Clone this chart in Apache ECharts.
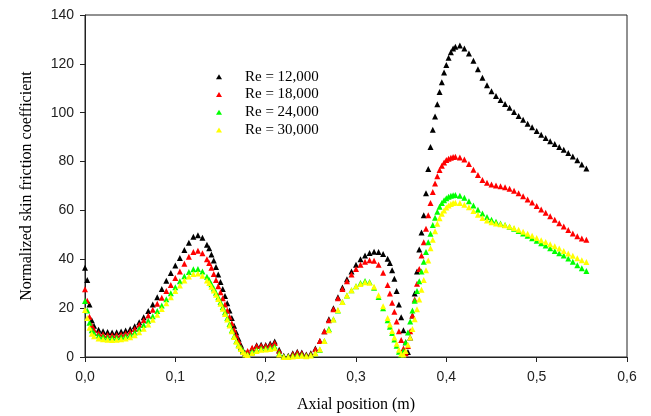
<!DOCTYPE html>
<html>
<head>
<meta charset="utf-8">
<script src="https://cdn.jsdelivr.net/npm/echarts@6/dist/echarts.min.js"></script>
<style>
    html, body { margin: 0; padding: 0; background: #fff; }
    #chart { width: 651px; height: 416px; }
</style>
</head>
<body>
<div id="chart"></div>
<script>
// axial positions (m), shared by all four series
const axialPos = [
    0, 0.0025, 0.005, 0.0075, 0.01,
    0.015, 0.02, 0.025, 0.03, 0.035, 0.04, 0.045, 0.05, 0.055, 0.06, 0.065, 0.07, 0.075, 0.08, 0.085, 0.09, 0.095, 0.1, 0.105, 0.11, 0.115, 0.12, 0.125, 0.13, 0.135,
    0.1375, 0.14, 0.1425, 0.145, 0.1475, 0.15, 0.1525, 0.155, 0.1575, 0.16, 0.1625, 0.165, 0.1675, 0.17, 0.1725, 0.175, 0.1775, 0.18,
    0.185, 0.19, 0.195, 0.2, 0.205, 0.21, 0.215, 0.22, 0.225, 0.23, 0.235, 0.24, 0.245, 0.25, 0.255, 0.26, 0.265, 0.27, 0.275, 0.28, 0.285, 0.29, 0.295, 0.3, 0.305, 0.31, 0.315, 0.32, 0.325, 0.33, 0.335,
    0.3375, 0.34, 0.3425, 0.345, 0.3475, 0.35, 0.3525, 0.355, 0.3575, 0.36, 0.3625, 0.365, 0.3675, 0.37, 0.3725, 0.375, 0.3775, 0.38, 0.3825, 0.385, 0.3875, 0.39, 0.3925, 0.395, 0.3975, 0.4, 0.4025, 0.405, 0.4075, 0.41,
    0.415, 0.42, 0.425, 0.43, 0.435, 0.44, 0.445, 0.45, 0.455, 0.46, 0.465, 0.47, 0.475, 0.48, 0.485, 0.49, 0.495, 0.5, 0.505, 0.51, 0.515, 0.52, 0.525, 0.53, 0.535, 0.54, 0.545, 0.55, 0.555,
];

const re12000 = [
    36.5, 31.5, 21.5, 15, 12.8,
    11.2, 10.5, 10.2, 10.0, 10.1, 10.4, 10.8, 11.5, 12.6, 14.2, 16.3, 18.8, 21.5, 24.5, 27.8, 31.2, 34.4, 37.5, 40.5, 43.8, 46.8, 49.2, 49.8, 48.8, 46,
    44.5, 42, 39.5, 36.8, 33.8, 30.7, 27.8, 25, 22, 19, 16, 12.8, 10, 7.5, 5, 2.8, 1.5, 1.8,
    3.5, 4.8, 5.0, 4.9, 5.5, 6.3, 3, 0.5, 0.5, 1.5, 2.2, 1.8, 1.0, 1.5, 3.5, 6.5, 10.5, 15.5, 20, 24.5, 28.5, 31.8, 35, 37.8, 40, 41.6, 42.6, 43.1, 43, 42.2, 40.2,
    38.5, 35.5, 32, 27, 21.5, 16.3, 11, 6, 2, 8, 17, 26, 35, 44, 51, 58, 67, 77, 86, 93, 98.5, 103.5, 108.5, 112.5, 116.5, 119.5, 122.5, 124.8, 126.3, 127,
    127.5, 126.3, 124.2, 121.3, 117.8, 114.3, 111.2, 108.8, 106.8, 105.2, 103.6, 102, 100.3, 98.7, 97.1, 95.5, 94, 92.5, 91, 89.6, 88.3, 87.2, 86, 84.8, 83.5, 82.1, 80.5, 78.8, 77.2,
];

const re18000 = [
    27.7, 23, 16.5, 13, 11.2,
    9.8, 9.3, 9.0, 8.9, 9.0, 9.2, 9.6, 10.3, 11.5, 13.2, 15, 17, 19.3, 21.8, 24.3, 27, 29.5, 32.3, 35, 38.2, 41, 43, 43.5, 42.5, 40,
    38.5, 36.5, 34, 31.5, 29, 26.5, 24, 21.5, 19, 16.5, 13.8, 11.2, 8.8, 6.5, 4.2, 2.2, 1.5, 2.5,
    3.8, 4.5, 4.6, 4.6, 5.0, 5.7, 2.5, 0.3, 0.3, 1.2, 1.8, 1.5, 0.8, 1.2, 3.2, 6.5, 10.5, 15, 19.5, 24, 27.8, 31, 33.8, 36, 37.8, 39, 39.6, 39.4, 37.8, 34.5, 29.5,
    26, 22.2, 18.5, 14.5, 10.5, 7, 3.5, 1.5, 4.5, 10.5, 17, 23.5, 30, 36, 41.5, 47, 52.5, 58, 63, 67.5, 71, 74, 76.5, 78.3, 79.6, 80.6, 81.2, 81.6, 81.9, 82,
    81.7, 80.8, 79, 76.7, 74.5, 72.5, 71.3, 70.6, 70.2, 69.9, 69.5, 68.9, 68.1, 67.0, 65.8, 64.5, 63.2, 61.8, 60.4, 59, 57.6, 56.2, 54.8, 53.4, 52, 50.6, 49.4, 48.5, 48,
];

const re24000 = [
    22.9, 19, 14, 11, 9.8,
    8.7, 8.3, 8.0, 7.9, 8.0, 8.2, 8.5, 9.0, 10.0, 11.6, 13.1, 14.8, 16.7, 18.8, 21.1, 23.6, 26.1, 28.6, 31, 33.1, 34.8, 35.9, 36, 35, 32.8,
    31.5, 29.8, 28, 26.3, 24.5, 22.5, 20.5, 18.3, 16, 13.5, 11, 8.5, 6.5, 5, 3.8, 2.5, 1.2, 1.0,
    2.2, 3.0, 3.5, 3.6, 3.8, 4.3, 1.5, 0.2, 0.2, 0.5, 0.8, 0.8, 0.5, 0.8, 1.5, 3, 6.5, 11.5, 15.5, 19, 22.5, 25.2, 27.3, 29, 30.3, 31.1, 30.7, 28.3, 24.6, 20, 15,
    12.4, 9.8, 7.2, 4.6, 2.2, 1.0, 2.5, 6, 10, 14.5, 19, 23, 27, 31, 35, 39, 43, 47, 50.5, 54, 57, 59.5, 61.5, 63, 64.2, 65, 65.6, 66, 66.2, 66.3,
    66, 65.2, 63.8, 62, 60.3, 58.7, 57.3, 56.2, 55.4, 54.7, 54, 53.3, 52.5, 51.6, 50.6, 49.6, 48.6, 47.6, 46.6, 45.6, 44.5, 43.4, 42.5, 41.5, 40.3, 39, 37.6, 36.3, 35.2,
];

const re30000 = [
    19.2, 16, 12, 9.5, 8.5,
    7.6, 7.3, 7.1, 7.0, 7.1, 7.3, 7.6, 8.1, 8.9, 10.1, 11.6, 13.3, 15.2, 17.3, 19.6, 22, 24.5, 27, 29.3, 31.3, 33, 34, 34.2, 33.3, 31.3,
    30.3, 28.8, 27.2, 25.5, 23.7, 21.8, 19.8, 17.6, 15.3, 12.9, 10.5, 8.2, 6.2, 4.6, 3.3, 2.0, 1.0, 0.8,
    1.6, 2.5, 3.0, 3.1, 3.3, 3.6, 1.0, 0, 0, 0.2, 0.4, 0.5, 0.3, 0.6, 1.5, 3.2, 6.5, 11, 15.3, 19.2, 22.5, 25.2, 27.3, 29, 29.9, 30.6, 30.4, 28.8, 25.3, 20.8, 16,
    13.3, 10.6, 8, 5.4, 3, 1.3, 1.0, 2.5, 5, 8, 11.5, 15.5, 19.5, 23.5, 27.5, 31.5, 35.5, 39.5, 44.5, 48, 51.5, 54.5, 56.8, 58.6, 60, 61.2, 62, 62.6, 63, 63.1,
    63, 62.3, 61.3, 59.8, 58.2, 56.9, 55.9, 55.2, 54.7, 54.3, 53.9, 53.4, 52.8, 52.1, 51.3, 50.5, 49.6, 48.7, 47.8, 47.1, 46.2, 45.3, 44.4, 43.4, 42.4, 41.4, 40.4, 39.6, 38.9,
];

const seriesNames = ["Re = 12,000", "Re = 18,000", "Re = 24,000", "Re = 30,000"];
const seriesValues = [re12000, re18000, re24000, re30000];
const seriesColors = ["#000000", "#ff0000", "#00ff00", "#ffff00"];

const serif = "'Liberation Serif', 'Times New Roman', serif";
const sans = "'Liberation Sans', Arial, sans-serif";

function pairs(values) {
    return axialPos.map((x, i) => [x, values[i]]);
}

const option = {
    animation: false,
    backgroundColor: "#fff",
    grid: {
        left: 85,
        right: 24,
        top: 15,
        bottom: 59,
        outerBoundsMode: "none",
        show: true,
        borderColor: "#222",
        borderWidth: 1,
    },
    legend: {
        orient: "vertical",
        left: 211,
        top: 63,
        itemWidth: 6,
        itemHeight: 5,
        itemGap: 0,
        icon: "triangle",
        data: seriesNames,
        textStyle: {
            fontFamily: serif,
            fontSize: 15,
            color: "#000",
            lineHeight: 17.7,
            padding: [0, 0, 0, 18],
        },
    },
    xAxis: {
        type: "value",
        min: 0,
        max: 0.6,
        interval: 0.1,
        name: "Axial position (m)",
        nameLocation: "middle",
        nameGap: 40,
        nameTextStyle: { fontFamily: serif, fontSize: 16, color: "#000" },
        axisLine: { show: true, lineStyle: { color: "#222" } },
        axisTick: { show: true, length: 5, lineStyle: { color: "#222" } },
        axisLabel: {
            fontFamily: sans,
            fontSize: 14,
            color: "#222",
            margin: 13,
            formatter: v => v.toFixed(1).replace(".", ","),
        },
        splitLine: { show: false },
    },
    yAxis: {
        type: "value",
        min: 0,
        max: 140,
        interval: 20,
        name: "Normalized skin friction coefficient",
        nameLocation: "middle",
        nameGap: 50,
        nameTextStyle: { fontFamily: serif, fontSize: 16, color: "#000" },
        axisLine: { show: true, lineStyle: { color: "#222" } },
        axisTick: { show: true, length: 5, lineStyle: { color: "#222" } },
        axisLabel: { fontFamily: sans, fontSize: 14, color: "#222", margin: 11 },
        splitLine: { show: false },
    },
    series: seriesNames.map((name, i) => ({
        type: "scatter",
        name,
        data: pairs(seriesValues[i]),
        symbol: "triangle",
        symbolSize: 6,
        clip: false,
        itemStyle: { color: seriesColors[i], opacity: 1 },
        emphasis: { disabled: true },
    })),
};

const myChart = echarts.init(document.getElementById("chart"), null, { renderer: "canvas" });
myChart.setOption(option);
</script>
</body>
</html>
